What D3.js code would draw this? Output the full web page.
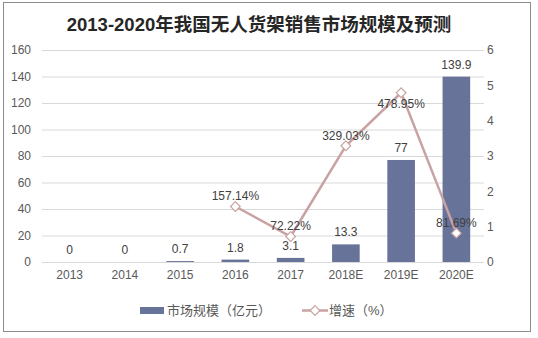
<!DOCTYPE html>
<html><head><meta charset="utf-8">
<script src="https://cdn.jsdelivr.net/npm/d3@7"></script>
<style>body{margin:0;background:#fff;}svg{display:block;}</style>
</head><body>
<svg id="c" width="538" height="338"></svg>
<script>
const categories = ["2013","2014","2015","2016","2017","2018E","2019E","2020E"];
const marketSize = [0,0,0.7,1.8,3.1,13.3,77,139.9];
const marketLabels = ["0","0","0.7","1.8","3.1","13.3","77","139.9"];
const growth = [null,null,null,1.5714,0.7222,3.2903,4.7895,0.8169];
const growthLabels = [null,null,null,"157.14%","72.22%","329.03%","478.95%","81.69%"];
const leftTicks = [0,20,40,60,80,100,120,140,160];
const rightTicks = [0,1,2,3,4,5,6];
const title = "2013-2020年我国无人货架销售市场规模及预测";
const legendNames = ["市场规模（亿元）","增速（%）"];

const svg = d3.select("#c");
const font = "'Liberation Sans','Noto Sans CJK SC',sans-serif";
const barColor = "#68739a", lineColor = "#c9a3a3", gridColor = "#d9d9d9", textColor = "#595959";

svg.append("rect").attr("x",3.5).attr("y",2.5).attr("width",527).attr("height",329)
  .attr("fill","#fff").attr("stroke","#8c8c8c").attr("stroke-width",1);

svg.append("text").attr("x",259).attr("y",31).attr("text-anchor","middle")
  .attr("font-family",font).attr("font-weight","bold").attr("font-size",18.5).attr("fill","#262626")
  .text(title);

const x = d3.scaleBand().domain(categories).range([42,484]).paddingInner(0.5).paddingOuter(0.25);
const yL = d3.scaleLinear().domain([0,160]).range([262,50]);
const yR = d3.scaleLinear().domain([0,6]).range([262,50]);

// grid
svg.append("g").selectAll("line").data(leftTicks).join("line")
  .attr("x1",42).attr("x2",484).attr("y1",d=>yL(d)+0.5).attr("y2",d=>yL(d)+0.5)
  .attr("stroke",gridColor).attr("stroke-width",1);

// left axis
const ax = d3.axisLeft(yL).tickValues(leftTicks).tickSize(0).tickPadding(0);
const gL = svg.append("g").attr("transform","translate(31,0)").call(ax);
gL.select(".domain").remove();
gL.selectAll("text").attr("font-family",font).attr("font-size",12).attr("fill",textColor);

const axR = d3.axisRight(yR).tickValues(rightTicks).tickFormat(d3.format("d")).tickSize(0).tickPadding(0);
const gR = svg.append("g").attr("transform","translate(487,0)").call(axR);
gR.select(".domain").remove();
gR.selectAll("text").attr("font-family",font).attr("font-size",12).attr("fill",textColor);

const axB = d3.axisBottom(x).tickSize(0).tickPadding(0);
const gB = svg.append("g").attr("transform","translate(0,270)").call(axB);
gB.select(".domain").remove();
gB.selectAll("text").attr("font-family",font).attr("font-size",12).attr("fill",textColor).attr("dy","0.71em");

// bars
svg.append("g").selectAll("rect").data(marketSize).join("rect")
  .attr("x",(d,i)=>x(categories[i])).attr("width",x.bandwidth())
  .attr("y",d=>yL(d)).attr("height",d=>yL(0)-yL(d)).attr("fill",barColor);

svg.append("g").selectAll("text").data(marketSize).join("text")
  .attr("x",(d,i)=>x(categories[i])+x.bandwidth()/2).attr("y",d=>yL(d)-8)
  .attr("text-anchor","middle").attr("font-family",font).attr("font-size",12).attr("fill","#404040")
  .text((d,i)=>marketLabels[i]);

// line
const pts = growth.map((v,i)=>({v,i})).filter(d=>d.v!==null);
const line = d3.line().x(d=>x(categories[d.i])+x.bandwidth()/2).y(d=>yR(d.v));
svg.append("path").datum(pts).attr("d",line).attr("fill","none")
  .attr("stroke",lineColor).attr("stroke-width",2.5);
const sym = d3.symbol().type(d3.symbolDiamond2).size(60);
svg.append("g").selectAll("path").data(pts).join("path")
  .attr("transform",d=>`translate(${x(categories[d.i])+x.bandwidth()/2},${yR(d.v)})`)
  .attr("d",sym).attr("fill","#fff").attr("stroke",lineColor).attr("stroke-width",1.2);

svg.append("g").selectAll("text").data(pts).join("text")
  .attr("x",d=>x(categories[d.i])+x.bandwidth()/2)
  .attr("y",d=>d.i===6 ? yR(d.v)+15 : yR(d.v)-6)
  .attr("text-anchor","middle").attr("font-family",font).attr("font-size",12).attr("fill","#404040")
  .text(d=>growthLabels[d.i]);

// legend
const lg = svg.append("g");
lg.append("rect").attr("x",140).attr("y",307).attr("width",24).attr("height",7).attr("fill",barColor);
lg.append("text").attr("x",167).attr("y",315).attr("font-family",font).attr("font-size",13).attr("fill",textColor).text(legendNames[0]);
lg.append("line").attr("x1",302).attr("x2",328).attr("y1",310.5).attr("y2",310.5).attr("stroke",lineColor).attr("stroke-width",2.5);
lg.append("path").attr("transform","translate(315,310.5)").attr("d",sym).attr("fill","#fff").attr("stroke",lineColor).attr("stroke-width",1.2);
lg.append("text").attr("x",329).attr("y",315).attr("font-family",font).attr("font-size",13).attr("fill",textColor).text(legendNames[1]);
</script>
</body></html>
